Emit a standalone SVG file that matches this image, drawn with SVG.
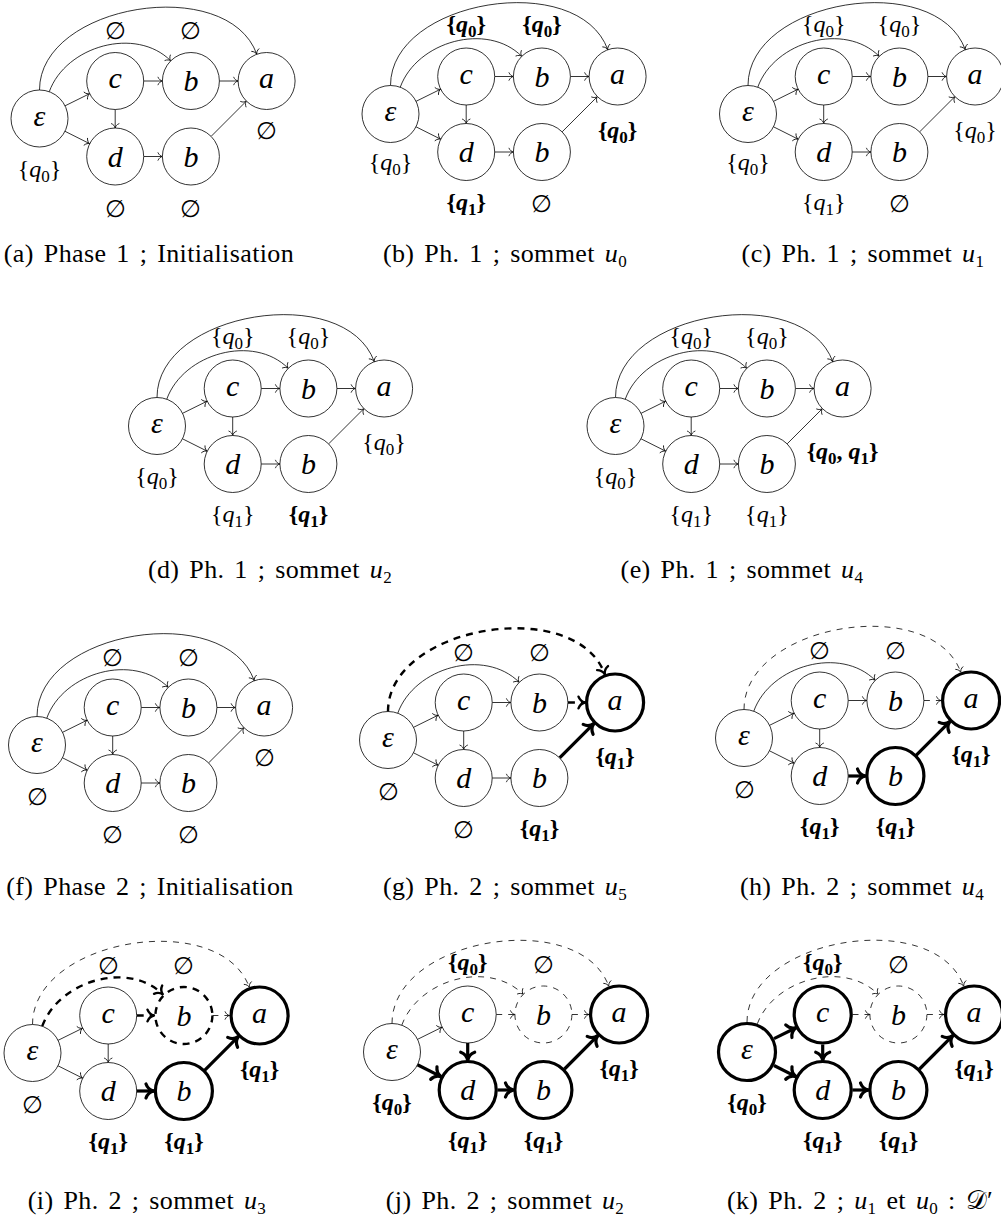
<svg xmlns="http://www.w3.org/2000/svg" width="1001" height="1218" viewBox="0 0 1001 1218">
<style>
.n{fill:#fff;stroke:#000;stroke-width:0.8}
.N{fill:#fff;stroke:#000;stroke-width:3.2}
.nd{fill:#fff;stroke:#000;stroke-width:0.8;stroke-dasharray:6 6}
.Nd{fill:#fff;stroke:#000;stroke-width:2.4;stroke-dasharray:7 6}
.e{fill:none;stroke:#000;stroke-width:0.8;marker-end:url(#ah)}
.ed{fill:none;stroke:#000;stroke-width:0.8;stroke-dasharray:6 6;marker-end:url(#ah)}
.E{fill:none;stroke:#000;stroke-width:3.2;marker-end:url(#AH)}
.Ed{fill:none;stroke:#000;stroke-width:2.4;stroke-dasharray:7 6;marker-end:url(#AHd)}
.t{font-family:"Liberation Serif",serif;font-style:italic;font-size:30px;text-anchor:middle}
.l{font-family:"Liberation Serif","DejaVu Serif",serif;font-size:24px;text-anchor:middle}
.b{font-weight:bold}
.i{font-style:italic}
.s{font-size:17px}
.cap{font-family:"Liberation Serif",serif;font-size:26px;text-anchor:middle;letter-spacing:0.4px;word-spacing:3px}
</style>
<defs>
<marker id="ah" markerUnits="userSpaceOnUse" markerWidth="12" markerHeight="12" viewBox="-6 -6 12 12" refX="0" refY="0" orient="auto" overflow="visible">
<path d="M-4.4,-3.8 C-3.5,-1.5 -1.5,-0.3 0,0 C-1.5,0.3 -3.5,1.5 -4.4,3.8" fill="none" stroke="#000" stroke-width="0.8" stroke-linecap="round"/>
</marker>
<marker id="AH" markerUnits="userSpaceOnUse" markerWidth="24" markerHeight="24" viewBox="-12 -12 24 24" refX="0" refY="0" orient="auto" overflow="visible">
<path d="M-8,-7 C-6.5,-2.6 -2.8,-0.6 0,0 C-2.8,0.6 -6.5,2.6 -8,7" fill="none" stroke="#000" stroke-width="3.2" stroke-linecap="round" stroke-linejoin="round"/>
</marker>
<marker id="AHd" markerUnits="userSpaceOnUse" markerWidth="24" markerHeight="24" viewBox="-12 -12 24 24" refX="0" refY="0" orient="auto" overflow="visible">
<path d="M-6.5,-5.8 C-5.2,-2.2 -2.3,-0.5 0,0 C-2.3,0.5 -5.2,2.2 -6.5,5.8" fill="none" stroke="#000" stroke-width="2.4" stroke-linecap="round" stroke-linejoin="round"/>
</marker>
</defs>

<!-- (a) -->
<g id="panel-a" transform="translate(39.5,118.5)">
<g id="a-edges">
<path class="e" d="M25.5,-12.65L50.2,-24.85"/><path class="e" d="M25.5,12.8L50.2,25.2"/><path class="e" d="M75.7,-9L75.7,9.5"/><path class="e" d="M104.2,-37.5L122.9,-37.5"/><path class="e" d="M104.2,38L122.9,38"/><path class="e" d="M179.9,-37.5L198.6,-37.5"/><path class="e" d="M171.6,17.9L206.9,-17.4"/><path class="e" d="M9.75,-26.8C26.5,-72.8 96.6,-92.3 131.25,-57.65"/><path class="e" d="M0,-28.5C0,-114.5 187.9,-145.1 217.3,-64.3"/>
</g>
<g id="a-eps"><circle class="n" r="28.5"/><text class="t" y="7">ε</text><text class="l" y="58">{<tspan class="i">q</tspan><tspan class="s" dy="5">0</tspan><tspan dy="-5">}</tspan></text></g>
<g id="a-c" transform="translate(75.7,-37.5)"><circle class="n" r="28.5"/><text class="t" y="7">c</text><text class="l" y="-42">∅</text></g>
<g id="a-b1" transform="translate(151.4,-37.5)"><circle class="n" r="28.5"/><text class="t" y="10">b</text><text class="l" y="-42">∅</text></g>
<g id="a-a" transform="translate(227.1,-37.5)"><circle class="n" r="28.5"/><text class="t" y="7">a</text><text class="l" y="58">∅</text></g>
<g id="a-d" transform="translate(75.7,38)"><circle class="n" r="28.5"/><text class="t" y="10">d</text><text class="l" y="60">∅</text></g>
<g id="a-b2" transform="translate(151.4,38)"><circle class="n" r="28.5"/><text class="t" y="10">b</text><text class="l" y="60">∅</text></g>
</g>

<!-- (b) -->
<g id="panel-b" transform="translate(390.5,114)">
<g id="b-edges">
<path class="e" d="M25.5,-12.65L50.2,-24.85"/><path class="e" d="M25.5,12.8L50.2,25.2"/><path class="e" d="M75.7,-9L75.7,9.5"/><path class="e" d="M104.2,-37.5L122.9,-37.5"/><path class="e" d="M104.2,38L122.9,38"/><path class="e" d="M179.9,-37.5L198.6,-37.5"/><path class="e" d="M171.6,17.9L206.9,-17.4"/><path class="e" d="M9.75,-26.8C26.5,-72.8 96.6,-92.3 131.25,-57.65"/><path class="e" d="M0,-28.5C0,-114.5 187.9,-145.1 217.3,-64.3"/>
</g>
<g id="b-eps"><circle class="n" r="28.5"/><text class="t" y="7">ε</text><text class="l" y="56">{<tspan class="i">q</tspan><tspan class="s" dy="5">0</tspan><tspan dy="-5">}</tspan></text></g>
<g id="b-c" transform="translate(75.7,-37.5)"><circle class="n" r="28.5"/><text class="t" y="7">c</text><text class="l b" y="-45">{<tspan class="i">q</tspan><tspan class="s" dy="5">0</tspan><tspan dy="-5">}</tspan></text></g>
<g id="b-b1" transform="translate(151.4,-37.5)"><circle class="n" r="28.5"/><text class="t" y="10">b</text><text class="l b" y="-45">{<tspan class="i">q</tspan><tspan class="s" dy="5">0</tspan><tspan dy="-5">}</tspan></text></g>
<g id="b-a" transform="translate(227.1,-37.5)"><circle class="n" r="28.5"/><text class="t" y="7">a</text><text class="l b" y="61">{<tspan class="i">q</tspan><tspan class="s" dy="5">0</tspan><tspan dy="-5">}</tspan></text></g>
<g id="b-d" transform="translate(75.7,38)"><circle class="n" r="28.5"/><text class="t" y="10">d</text><text class="l b" y="58">{<tspan class="i">q</tspan><tspan class="s" dy="5">1</tspan><tspan dy="-5">}</tspan></text></g>
<g id="b-b2" transform="translate(151.4,38)"><circle class="n" r="28.5"/><text class="t" y="10">b</text><text class="l" y="60">∅</text></g>
</g>

<!-- (c) -->
<g id="panel-c" transform="translate(748,114)">
<g id="c-edges">
<path class="e" d="M25.5,-12.65L50.2,-24.85"/><path class="e" d="M25.5,12.8L50.2,25.2"/><path class="e" d="M75.7,-9L75.7,9.5"/><path class="e" d="M104.2,-37.5L122.9,-37.5"/><path class="e" d="M104.2,38L122.9,38"/><path class="e" d="M179.9,-37.5L198.6,-37.5"/><path class="e" d="M171.6,17.9L206.9,-17.4"/><path class="e" d="M9.75,-26.8C26.5,-72.8 96.6,-92.3 131.25,-57.65"/><path class="e" d="M0,-28.5C0,-114.5 187.9,-145.1 217.3,-64.3"/>
</g>
<g id="c-eps"><circle class="n" r="28.5"/><text class="t" y="7">ε</text><text class="l" y="56">{<tspan class="i">q</tspan><tspan class="s" dy="5">0</tspan><tspan dy="-5">}</tspan></text></g>
<g id="c-c" transform="translate(75.7,-37.5)"><circle class="n" r="28.5"/><text class="t" y="7">c</text><text class="l" y="-45">{<tspan class="i">q</tspan><tspan class="s" dy="5">0</tspan><tspan dy="-5">}</tspan></text></g>
<g id="c-b1" transform="translate(151.4,-37.5)"><circle class="n" r="28.5"/><text class="t" y="10">b</text><text class="l" y="-45">{<tspan class="i">q</tspan><tspan class="s" dy="5">0</tspan><tspan dy="-5">}</tspan></text></g>
<g id="c-a" transform="translate(227.1,-37.5)"><circle class="n" r="28.5"/><text class="t" y="7">a</text><text class="l" y="61">{<tspan class="i">q</tspan><tspan class="s" dy="5">0</tspan><tspan dy="-5">}</tspan></text></g>
<g id="c-d" transform="translate(75.7,38)"><circle class="n" r="28.5"/><text class="t" y="10">d</text><text class="l" y="58">{<tspan class="i">q</tspan><tspan class="s" dy="5">1</tspan><tspan dy="-5">}</tspan></text></g>
<g id="c-b2" transform="translate(151.4,38)"><circle class="n" r="28.5"/><text class="t" y="10">b</text><text class="l" y="60">∅</text></g>
</g>

<!-- (d) -->
<g id="panel-d" transform="translate(157,426)">
<g id="d-edges">
<path class="e" d="M25.5,-12.65L50.2,-24.85"/><path class="e" d="M25.5,12.8L50.2,25.2"/><path class="e" d="M75.7,-9L75.7,9.5"/><path class="e" d="M104.2,-37.5L122.9,-37.5"/><path class="e" d="M104.2,38L122.9,38"/><path class="e" d="M179.9,-37.5L198.6,-37.5"/><path class="e" d="M171.6,17.9L206.9,-17.4"/><path class="e" d="M9.75,-26.8C26.5,-72.8 96.6,-92.3 131.25,-57.65"/><path class="e" d="M0,-28.5C0,-114.5 187.9,-145.1 217.3,-64.3"/>
</g>
<g id="d-eps"><circle class="n" r="28.5"/><text class="t" y="7">ε</text><text class="l" y="58">{<tspan class="i">q</tspan><tspan class="s" dy="5">0</tspan><tspan dy="-5">}</tspan></text></g>
<g id="d-c" transform="translate(75.7,-37.5)"><circle class="n" r="28.5"/><text class="t" y="7">c</text><text class="l" y="-45">{<tspan class="i">q</tspan><tspan class="s" dy="5">0</tspan><tspan dy="-5">}</tspan></text></g>
<g id="d-b1" transform="translate(151.4,-37.5)"><circle class="n" r="28.5"/><text class="t" y="10">b</text><text class="l" y="-45">{<tspan class="i">q</tspan><tspan class="s" dy="5">0</tspan><tspan dy="-5">}</tspan></text></g>
<g id="d-a" transform="translate(227.1,-37.5)"><circle class="n" r="28.5"/><text class="t" y="7">a</text><text class="l" y="61">{<tspan class="i">q</tspan><tspan class="s" dy="5">0</tspan><tspan dy="-5">}</tspan></text></g>
<g id="d-d" transform="translate(75.7,38)"><circle class="n" r="28.5"/><text class="t" y="10">d</text><text class="l" y="58">{<tspan class="i">q</tspan><tspan class="s" dy="5">1</tspan><tspan dy="-5">}</tspan></text></g>
<g id="d-b2" transform="translate(151.4,38)"><circle class="n" r="28.5"/><text class="t" y="10">b</text><text class="l b" y="58">{<tspan class="i">q</tspan><tspan class="s" dy="5">1</tspan><tspan dy="-5">}</tspan></text></g>
</g>

<!-- (e) -->
<g id="panel-e" transform="translate(615.5,426)">
<g id="e-edges">
<path class="e" d="M25.5,-12.65L50.2,-24.85"/><path class="e" d="M25.5,12.8L50.2,25.2"/><path class="e" d="M75.7,-9L75.7,9.5"/><path class="e" d="M104.2,-37.5L122.9,-37.5"/><path class="e" d="M104.2,38L122.9,38"/><path class="e" d="M179.9,-37.5L198.6,-37.5"/><path class="e" d="M171.6,17.9L206.9,-17.4"/><path class="e" d="M9.75,-26.8C26.5,-72.8 96.6,-92.3 131.25,-57.65"/><path class="e" d="M0,-28.5C0,-114.5 187.9,-145.1 217.3,-64.3"/>
</g>
<g id="e-eps"><circle class="n" r="28.5"/><text class="t" y="7">ε</text><text class="l" y="58">{<tspan class="i">q</tspan><tspan class="s" dy="5">0</tspan><tspan dy="-5">}</tspan></text></g>
<g id="e-c" transform="translate(75.7,-37.5)"><circle class="n" r="28.5"/><text class="t" y="7">c</text><text class="l" y="-45">{<tspan class="i">q</tspan><tspan class="s" dy="5">0</tspan><tspan dy="-5">}</tspan></text></g>
<g id="e-b1" transform="translate(151.4,-37.5)"><circle class="n" r="28.5"/><text class="t" y="10">b</text><text class="l" y="-45">{<tspan class="i">q</tspan><tspan class="s" dy="5">0</tspan><tspan dy="-5">}</tspan></text></g>
<g id="e-a" transform="translate(227.1,-37.5)"><circle class="n" r="28.5"/><text class="t" y="7">a</text><text class="l b" y="70">{<tspan class="i">q</tspan><tspan class="s" dy="5">0</tspan><tspan dy="-5">, </tspan><tspan class="i">q</tspan><tspan class="s" dy="5">1</tspan><tspan dy="-5">}</tspan></text></g>
<g id="e-d" transform="translate(75.7,38)"><circle class="n" r="28.5"/><text class="t" y="10">d</text><text class="l" y="58">{<tspan class="i">q</tspan><tspan class="s" dy="5">1</tspan><tspan dy="-5">}</tspan></text></g>
<g id="e-b2" transform="translate(151.4,38)"><circle class="n" r="28.5"/><text class="t" y="10">b</text><text class="l" y="58">{<tspan class="i">q</tspan><tspan class="s" dy="5">1</tspan><tspan dy="-5">}</tspan></text></g>
</g>

<!-- (f) -->
<g id="panel-f" transform="translate(37,745)">
<g id="f-edges">
<path class="e" d="M25.5,-12.65L50.2,-24.85"/><path class="e" d="M25.5,12.8L50.2,25.2"/><path class="e" d="M75.7,-9L75.7,9.5"/><path class="e" d="M104.2,-37.5L122.9,-37.5"/><path class="e" d="M104.2,38L122.9,38"/><path class="e" d="M179.9,-37.5L198.6,-37.5"/><path class="e" d="M171.6,17.9L206.9,-17.4"/><path class="e" d="M9.75,-26.8C26.5,-72.8 96.6,-92.3 131.25,-57.65"/><path class="e" d="M0,-28.5C0,-114.5 187.9,-145.1 217.3,-64.3"/>
</g>
<g id="f-eps"><circle class="n" r="28.5"/><text class="t" y="7">ε</text><text class="l" y="60">∅</text></g>
<g id="f-c" transform="translate(75.7,-37.5)"><circle class="n" r="28.5"/><text class="t" y="7">c</text><text class="l" y="-42">∅</text></g>
<g id="f-b1" transform="translate(151.4,-37.5)"><circle class="n" r="28.5"/><text class="t" y="10">b</text><text class="l" y="-42">∅</text></g>
<g id="f-a" transform="translate(227.1,-37.5)"><circle class="n" r="28.5"/><text class="t" y="7">a</text><text class="l" y="58">∅</text></g>
<g id="f-d" transform="translate(75.7,38)"><circle class="n" r="28.5"/><text class="t" y="10">d</text><text class="l" y="60">∅</text></g>
<g id="f-b2" transform="translate(151.4,38)"><circle class="n" r="28.5"/><text class="t" y="10">b</text><text class="l" y="60">∅</text></g>
</g>

<!-- (g) -->
<g id="panel-g" transform="translate(388,740)">
<g id="g-edges">
<path class="e" d="M25.5,-12.65L50.2,-24.85"/><path class="e" d="M25.5,12.8L50.2,25.2"/><path class="e" d="M75.7,-9L75.7,9.5"/><path class="e" d="M104.2,-37.5L122.9,-37.5"/><path class="e" d="M104.2,38L122.9,38"/><path class="Ed" d="M179.9,-37.5L197,-37.5"/><path class="E" d="M171.6,17.9L205.8,-16.3"/><path class="e" d="M9.75,-26.8C26.5,-72.8 96.6,-92.3 131.25,-57.65"/><path class="Ed" d="M0,-28.5C0,-114.5 187.9,-145.1 216.8,-65.8"/>
</g>
<g id="g-eps"><circle class="n" r="28.5"/><text class="t" y="7">ε</text><text class="l" y="60">∅</text></g>
<g id="g-c" transform="translate(75.7,-37.5)"><circle class="n" r="28.5"/><text class="t" y="7">c</text><text class="l" y="-42">∅</text></g>
<g id="g-b1" transform="translate(151.4,-37.5)"><circle class="n" r="28.5"/><text class="t" y="10">b</text><text class="l" y="-42">∅</text></g>
<g id="g-a" transform="translate(227.1,-37.5)"><circle class="N" r="28.5"/><text class="t" y="7">a</text><text class="l b" y="61">{<tspan class="i">q</tspan><tspan class="s" dy="5">1</tspan><tspan dy="-5">}</tspan></text></g>
<g id="g-d" transform="translate(75.7,38)"><circle class="n" r="28.5"/><text class="t" y="10">d</text><text class="l" y="60">∅</text></g>
<g id="g-b2" transform="translate(151.4,38)"><circle class="n" r="28.5"/><text class="t" y="10">b</text><text class="l b" y="58">{<tspan class="i">q</tspan><tspan class="s" dy="5">1</tspan><tspan dy="-5">}</tspan></text></g>
</g>

<!-- (h) -->
<g id="panel-h" transform="translate(744,738)">
<g id="h-edges">
<path class="e" d="M25.5,-12.65L50.2,-24.85"/><path class="e" d="M25.5,12.8L50.2,25.2"/><path class="e" d="M75.7,-9L75.7,9.5"/><path class="e" d="M104.2,-37.5L122.9,-37.5"/><path class="E" d="M104.2,38L121.5,38"/><path class="ed" d="M179.9,-37.5L197,-37.5"/><path class="E" d="M171.6,17.9L205.8,-16.3"/><path class="e" d="M9.75,-26.8C26.5,-72.8 96.6,-92.3 131.25,-57.65"/><path class="ed" d="M0,-28.5C0,-114.5 187.9,-145.1 216.8,-65.8"/>
</g>
<g id="h-eps"><circle class="n" r="28.5"/><text class="t" y="7">ε</text><text class="l" y="60">∅</text></g>
<g id="h-c" transform="translate(75.7,-37.5)"><circle class="n" r="28.5"/><text class="t" y="7">c</text><text class="l" y="-42">∅</text></g>
<g id="h-b1" transform="translate(151.4,-37.5)"><circle class="n" r="28.5"/><text class="t" y="10">b</text><text class="l" y="-42">∅</text></g>
<g id="h-a" transform="translate(227.1,-37.5)"><circle class="N" r="28.5"/><text class="t" y="7">a</text><text class="l b" y="61">{<tspan class="i">q</tspan><tspan class="s" dy="5">1</tspan><tspan dy="-5">}</tspan></text></g>
<g id="h-d" transform="translate(75.7,38)"><circle class="n" r="28.5"/><text class="t" y="10">d</text><text class="l b" y="58">{<tspan class="i">q</tspan><tspan class="s" dy="5">1</tspan><tspan dy="-5">}</tspan></text></g>
<g id="h-b2" transform="translate(151.4,38)"><circle class="N" r="28.5"/><text class="t" y="10">b</text><text class="l b" y="58">{<tspan class="i">q</tspan><tspan class="s" dy="5">1</tspan><tspan dy="-5">}</tspan></text></g>
</g>

<!-- (i) -->
<g id="panel-i" transform="translate(32.5,1053)">
<g id="i-edges">
<path class="e" d="M25.5,-12.65L50.2,-24.85"/><path class="e" d="M25.5,12.8L50.2,25.2"/><path class="e" d="M75.7,-9L75.7,9.5"/><path class="Ed" d="M104.2,-37.5L121.5,-37.5"/><path class="E" d="M104.2,38L121.5,38"/><path class="ed" d="M179.9,-37.5L197,-37.5"/><path class="E" d="M171.6,17.9L205.8,-16.3"/><path class="Ed" d="M9.75,-26.8C26.5,-72.8 96.6,-92.3 130.2,-58.7"/><path class="ed" d="M0,-28.5C0,-114.5 187.9,-145.1 216.8,-65.8"/>
</g>
<g id="i-eps"><circle class="n" r="28.5"/><text class="t" y="7">ε</text><text class="l" y="60">∅</text></g>
<g id="i-c" transform="translate(75.7,-37.5)"><circle class="n" r="28.5"/><text class="t" y="7">c</text><text class="l" y="-42">∅</text></g>
<g id="i-b1" transform="translate(151.4,-37.5)"><circle class="Nd" r="28.5"/><text class="t" y="10">b</text><text class="l" y="-42">∅</text></g>
<g id="i-a" transform="translate(227.1,-37.5)"><circle class="N" r="28.5"/><text class="t" y="7">a</text><text class="l b" y="61">{<tspan class="i">q</tspan><tspan class="s" dy="5">1</tspan><tspan dy="-5">}</tspan></text></g>
<g id="i-d" transform="translate(75.7,38)"><circle class="n" r="28.5"/><text class="t" y="10">d</text><text class="l b" y="58">{<tspan class="i">q</tspan><tspan class="s" dy="5">1</tspan><tspan dy="-5">}</tspan></text></g>
<g id="i-b2" transform="translate(151.4,38)"><circle class="N" r="28.5"/><text class="t" y="10">b</text><text class="l b" y="58">{<tspan class="i">q</tspan><tspan class="s" dy="5">1</tspan><tspan dy="-5">}</tspan></text></g>
</g>

<!-- (j) -->
<g id="panel-j" transform="translate(392,1052)">
<g id="j-edges">
<path class="e" d="M25.5,-12.65L50.2,-24.85"/><path class="E" d="M25.5,12.8L49,24.6"/><path class="E" d="M75.7,-9L75.7,8.2"/><path class="ed" d="M104.2,-37.5L122.9,-37.5"/><path class="E" d="M105.5,38L121.5,38"/><path class="ed" d="M179.9,-37.5L197,-37.5"/><path class="E" d="M172.5,17L205.8,-16.3"/><path class="ed" d="M9.75,-26.8C26.5,-72.8 96.6,-92.3 131.25,-57.65"/><path class="ed" d="M0,-28.5C0,-114.5 187.9,-145.1 216.8,-65.8"/>
</g>
<g id="j-eps"><circle class="n" r="28.5"/><text class="t" y="7">ε</text><text class="l b" y="58">{<tspan class="i">q</tspan><tspan class="s" dy="5">0</tspan><tspan dy="-5">}</tspan></text></g>
<g id="j-c" transform="translate(75.7,-37.5)"><circle class="n" r="28.5"/><text class="t" y="7">c</text><text class="l b" y="-45">{<tspan class="i">q</tspan><tspan class="s" dy="5">0</tspan><tspan dy="-5">}</tspan></text></g>
<g id="j-b1" transform="translate(151.4,-37.5)"><circle class="nd" r="28.5"/><text class="t" y="10">b</text><text class="l" y="-42">∅</text></g>
<g id="j-a" transform="translate(227.1,-37.5)"><circle class="N" r="28.5"/><text class="t" y="7">a</text><text class="l b" y="61">{<tspan class="i">q</tspan><tspan class="s" dy="5">1</tspan><tspan dy="-5">}</tspan></text></g>
<g id="j-d" transform="translate(75.7,38)"><circle class="N" r="28.5"/><text class="t" y="10">d</text><text class="l b" y="58">{<tspan class="i">q</tspan><tspan class="s" dy="5">1</tspan><tspan dy="-5">}</tspan></text></g>
<g id="j-b2" transform="translate(151.4,38)"><circle class="N" r="28.5"/><text class="t" y="10">b</text><text class="l b" y="58">{<tspan class="i">q</tspan><tspan class="s" dy="5">1</tspan><tspan dy="-5">}</tspan></text></g>
</g>

<!-- (k) -->
<g id="panel-k" transform="translate(747,1052)">
<g id="k-edges">
<path class="E" d="M27,-13.4L49,-24.3"/><path class="E" d="M27,13.5L49,24.6"/><path class="E" d="M75.7,-7.5L75.7,8.2"/><path class="ed" d="M105.5,-37.5L122.9,-37.5"/><path class="E" d="M105.5,38L121.5,38"/><path class="ed" d="M179.9,-37.5L197,-37.5"/><path class="E" d="M172.5,17L205.8,-16.3"/><path class="ed" d="M10.3,-28.2C27,-72.8 96.6,-92.3 131.25,-57.65"/><path class="ed" d="M0,-30C0,-114.5 187.9,-145.1 216.8,-65.8"/>
</g>
<g id="k-eps"><circle class="N" r="28.5"/><text class="t" y="7">ε</text><text class="l b" y="58">{<tspan class="i">q</tspan><tspan class="s" dy="5">0</tspan><tspan dy="-5">}</tspan></text></g>
<g id="k-c" transform="translate(75.7,-37.5)"><circle class="N" r="28.5"/><text class="t" y="7">c</text><text class="l b" y="-45">{<tspan class="i">q</tspan><tspan class="s" dy="5">0</tspan><tspan dy="-5">}</tspan></text></g>
<g id="k-b1" transform="translate(151.4,-37.5)"><circle class="nd" r="28.5"/><text class="t" y="10">b</text><text class="l" y="-42">∅</text></g>
<g id="k-a" transform="translate(227.1,-37.5)"><circle class="N" r="28.5"/><text class="t" y="7">a</text><text class="l b" y="61">{<tspan class="i">q</tspan><tspan class="s" dy="5">1</tspan><tspan dy="-5">}</tspan></text></g>
<g id="k-d" transform="translate(75.7,38)"><circle class="N" r="28.5"/><text class="t" y="10">d</text><text class="l b" y="58">{<tspan class="i">q</tspan><tspan class="s" dy="5">1</tspan><tspan dy="-5">}</tspan></text></g>
<g id="k-b2" transform="translate(151.4,38)"><circle class="N" r="28.5"/><text class="t" y="10">b</text><text class="l b" y="58">{<tspan class="i">q</tspan><tspan class="s" dy="5">1</tspan><tspan dy="-5">}</tspan></text></g>
</g>

<!-- captions -->
<g id="captions">
<text class="cap" x="149" y="262">(a) Phase 1 ; Initialisation</text>
<text class="cap" x="505" y="262">(b) Ph. 1 ; sommet <tspan class="i">u</tspan><tspan class="s" dy="5">0</tspan></text>
<text class="cap" x="863" y="262">(c) Ph. 1 ; sommet <tspan class="i">u</tspan><tspan class="s" dy="5">1</tspan></text>
<text class="cap" x="270" y="578">(d) Ph. 1 ; sommet <tspan class="i">u</tspan><tspan class="s" dy="5">2</tspan></text>
<text class="cap" x="742" y="578">(e) Ph. 1 ; sommet <tspan class="i">u</tspan><tspan class="s" dy="5">4</tspan></text>
<text class="cap" x="150" y="895">(f) Phase 2 ; Initialisation</text>
<text class="cap" x="505" y="895">(g) Ph. 2 ; sommet <tspan class="i">u</tspan><tspan class="s" dy="5">5</tspan></text>
<text class="cap" x="862" y="895">(h) Ph. 2 ; sommet <tspan class="i">u</tspan><tspan class="s" dy="5">4</tspan></text>
<text class="cap" x="147" y="1209">(i) Ph. 2 ; sommet <tspan class="i">u</tspan><tspan class="s" dy="5">3</tspan></text>
<text class="cap" x="505" y="1209">(j) Ph. 2 ; sommet <tspan class="i">u</tspan><tspan class="s" dy="5">2</tspan></text>
<text class="cap" x="860" y="1209">(k) Ph. 2 ; <tspan class="i">u</tspan><tspan class="s" dy="5">1</tspan><tspan dy="-5"> et </tspan><tspan class="i">u</tspan><tspan class="s" dy="5">0</tspan><tspan dy="-5"> : 𝒟′</tspan></text>
</g>
</svg>
